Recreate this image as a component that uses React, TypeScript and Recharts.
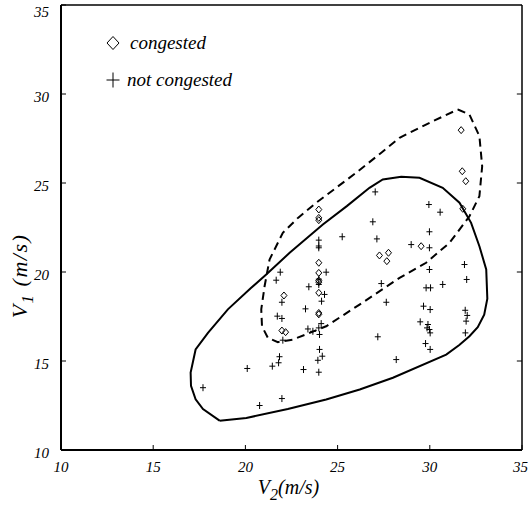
import { ScatterChart, Scatter, XAxis, YAxis, Legend, ReferenceLine } from 'recharts'

type Pt = { x: number; y: number }

const xTicks = [10, 15, 20, 25, 30, 35]
const yTicks = [10, 15, 20, 25, 30, 35]
const innerTicks = [15, 20, 25, 30]

const congested: Pt[] = [
  [31.7, 27.97], [31.76, 25.66], [31.95, 25.1], [31.79, 23.55], [29.53, 21.45],
  [27.27, 20.93], [27.76, 21.08], [27.67, 20.61],
  [23.98, 23.51], [23.98, 23.04], [23.98, 22.91], [23.98, 20.52], [23.98, 19.95],
  [23.98, 19.52], [23.98, 19.43], [23.98, 18.83], [23.98, 17.7], [23.98, 17.62],
  [22.09, 18.68], [21.98, 16.71], [22.18, 16.62],
].map(([x, y]) => ({ x, y }))

const notCongested: Pt[] = [
  [17.7, 13.5], [20.1, 14.58], [20.77, 12.5], [21.98, 12.89], [21.46, 14.71],
  [21.8, 14.9], [21.85, 15.24], [22.03, 16.17], [21.73, 17.52], [21.98, 17.39],
  [21.98, 18.3], [21.67, 19.54], [21.89, 19.99], [23.15, 14.52], [23.26, 17.93],
  [23.44, 19.17], [23.39, 16.8], [23.66, 16.67], [23.98, 14.37], [23.93, 15.04],
  [24.17, 15.27], [24.02, 15.65], [24.02, 16.49], [23.98, 16.86], [24.11, 17.1],
  [24.13, 18.36], [24.29, 18.74], [24.38, 19.99], [23.98, 19.6], [23.98, 19.3],
  [23.98, 21.79], [23.98, 21.46], [23.98, 21.36], [25.25, 21.98], [27.04, 24.5],
  [26.91, 22.82], [27.13, 21.86], [27.37, 19.35], [27.64, 18.3], [27.18, 16.36],
  [28.18, 15.08], [28.99, 21.54], [29.95, 23.79], [30.56, 23.36], [29.98, 22.26],
  [29.98, 21.36], [29.98, 20.14], [29.8, 19.11], [30.04, 19.11], [30.7, 19.3],
  [29.66, 18.08], [30.02, 17.89], [29.48, 17.2], [29.9, 17.05], [29.85, 16.86],
  [29.98, 16.77], [30.02, 16.58], [29.77, 15.98], [30.02, 15.65], [31.88, 20.42],
  [32.0, 19.58], [31.92, 17.85], [32.03, 17.56], [31.97, 17.24], [31.93, 16.58],
].map(([x, y]) => ({ x, y }))

// boundary of "not congested" region (solid)
const solidBoundary: Pt[] = [
  [18.6, 11.65], [17.7, 12.3], [17.3, 12.85], [17.05, 13.6], [17.03, 14.35],
  [17.3, 15.65], [17.97, 16.58], [19.05, 17.9], [20.3, 19.1], [21.13, 19.86],
  [22.4, 21.08], [24.2, 22.67], [25.5, 23.7], [26.73, 24.73], [27.45, 25.2],
  [28.45, 25.35], [29.44, 25.29], [30.7, 24.73], [31.61, 23.89], [32.24, 22.76],
  [32.69, 21.45], [33.06, 20.14], [33.12, 18.5], [32.95, 17.6], [32.6, 16.9],
  [32.15, 16.39], [31.6, 15.9], [30.89, 15.36], [28.0, 14.06], [26.2, 13.4],
  [24.38, 12.84], [22.3, 12.3], [20.05, 11.8], [18.6, 11.65],
].map(([x, y]) => ({ x, y }))

// boundary of "congested" region (dashed)
const dashedBoundary: Pt[] = [
  [31.52, 29.13], [32.15, 28.85], [32.69, 27.63], [32.84, 25.94], [32.69, 24.26],
  [32.15, 23.13], [31.07, 21.64], [29.8, 20.52], [28.36, 19.67], [26.19, 18.17],
  [24.38, 16.95], [22.57, 16.2], [21.76, 16.06], [21.22, 16.3], [20.9, 16.95],
  [20.86, 17.9], [21.04, 19.2], [21.31, 20.7], [22.03, 22.2], [22.85, 23.04],
  [23.84, 23.89], [26.0, 25.57], [27.37, 26.7], [28.36, 27.54], [30.16, 28.47],
  [31.52, 29.13],
].map(([x, y]) => ({ x, y }))

const FONT = 'Liberation Serif'
const textStyle = { fontFamily: FONT, fontStyle: 'italic' as const }

const Diamond = (props: any) => {
  const { cx, cy } = props
  return (
    <polygon
      points={`${cx},${cy - 3.5} ${cx + 3},${cy} ${cx},${cy + 3.5} ${cx - 3},${cy}`}
      fill="none"
      stroke="#000"
      strokeWidth={1}
    />
  )
}

const Plus = (props: any) => {
  const { cx, cy } = props
  return (
    <path d={`M${cx - 3},${cy}H${cx + 3}M${cx},${cy - 3.5}V${cy + 3.5}`} stroke="#000" strokeWidth={1} fill="none" />
  )
}

const NoDot = () => <g />

const XLabel = (props: any) => {
  const { viewBox } = props
  const cx = viewBox.x + viewBox.width / 2 - 3
  const y = viewBox.y + 44
  return (
    <text x={cx} y={y} textAnchor="middle" style={{ ...textStyle, fontSize: 20 }} fill="#000">
      <tspan>V</tspan>
      <tspan dy={6} style={{ fontSize: 16 }}>2</tspan>
      <tspan dy={-6}>(m/s)</tspan>
    </text>
  )
}

const YLabel = () => {
  const x = 27
  const y = 276
  return (
    <text
      x={x}
      y={y}
      transform={`rotate(-90, ${x}, ${y})`}
      textAnchor="middle"
      style={{ ...textStyle, fontSize: 22, letterSpacing: 1.5 }}
      fill="#000"
    >
      <tspan>V</tspan>
      <tspan dy={6} style={{ fontSize: 17 }}>1</tspan>
      <tspan dy={-6}> (m/s)</tspan>
    </text>
  )
}

const LegendBox = () => (
  <div style={{ ...textStyle, fontSize: 19, color: '#000' }}>
    <div style={{ display: 'flex', alignItems: 'center', height: 37 }}>
      <svg width={22} height={16}>
        <polygon points="11,1.5 17,8 11,14.5 5,8" fill="none" stroke="#000" strokeWidth={1} />
      </svg>
      <span style={{ marginLeft: 6 }}>congested</span>
    </div>
    <div style={{ display: 'flex', alignItems: 'center', height: 37 }}>
      <svg width={22} height={16}>
        <path d="M4.5,8H17.5M11,0.5V15.5" stroke="#000" strokeWidth={1} fill="none" />
      </svg>
      <span style={{ marginLeft: 3 }}>not congested</span>
    </div>
  </div>
)

const tickStyle = { fill: '#000', fontSize: 15, ...textStyle, style: { ...textStyle, fontSize: 15 } }

export default function App() {
  return (
    <div style={{ position: 'fixed', left: 0, top: 0, width: 528, height: 506, background: '#fff' }}>
      <ScatterChart width={528} height={506} margin={{ top: 5, right: 6, bottom: 0, left: 0 }}>
        <XAxis
          type="number"
          dataKey="x"
          domain={[10, 35]}
          ticks={xTicks}
          allowDataOverflow
          height={56}
          tickSize={-5}
          tickMargin={16}
          tick={tickStyle}
          axisLine={{ stroke: '#000', strokeWidth: 2 }}
          tickLine={{ stroke: '#000' }}
          label={(p: any) => <XLabel {...p} />}
        />
        <YAxis
          type="number"
          dataKey="y"
          domain={[10, 35]}
          ticks={yTicks}
          allowDataOverflow
          width={61}
          tickSize={-5}
          tickMargin={17}
          tick={{ ...tickStyle, dy: 3 }}
          axisLine={{ stroke: '#000', strokeWidth: 2 }}
          tickLine={{ stroke: '#000' }}
          label={() => <YLabel />}
        />
        {/* top and right frame */}
        <ReferenceLine y={35} stroke="#000" strokeWidth={1.5} ifOverflow="visible" />
        <ReferenceLine x={35} stroke="#000" strokeWidth={1.5} ifOverflow="visible" />
        {innerTicks.map((t) => (
          <ReferenceLine
            key={t}
            segment={[{ x: 34.72, y: t }, { x: 35, y: t }]}
            stroke="#000"
            strokeWidth={1}
            ifOverflow="visible"
          />
        ))}
        <Legend
          layout="horizontal"
          verticalAlign="middle"
          align="center"
          content={() => <LegendBox />}
          wrapperStyle={{ left: 102, top: 24, width: 'auto' }}
        />
        <Scatter
          data={dashedBoundary}
          line={{ stroke: '#000', strokeWidth: 2, strokeDasharray: '8 5' }}
          lineJointType="linear"
          shape={NoDot}
          legendType="none"
          isAnimationActive={false}
        />
        <Scatter
          data={solidBoundary}
          line={{ stroke: '#000', strokeWidth: 2 }}
          lineJointType="linear"
          shape={NoDot}
          legendType="none"
          isAnimationActive={false}
        />
        <Scatter name="not congested" data={notCongested} shape={Plus} isAnimationActive={false} />
        <Scatter name="congested" data={congested} shape={Diamond} isAnimationActive={false} />
      </ScatterChart>
    </div>
  )
}
